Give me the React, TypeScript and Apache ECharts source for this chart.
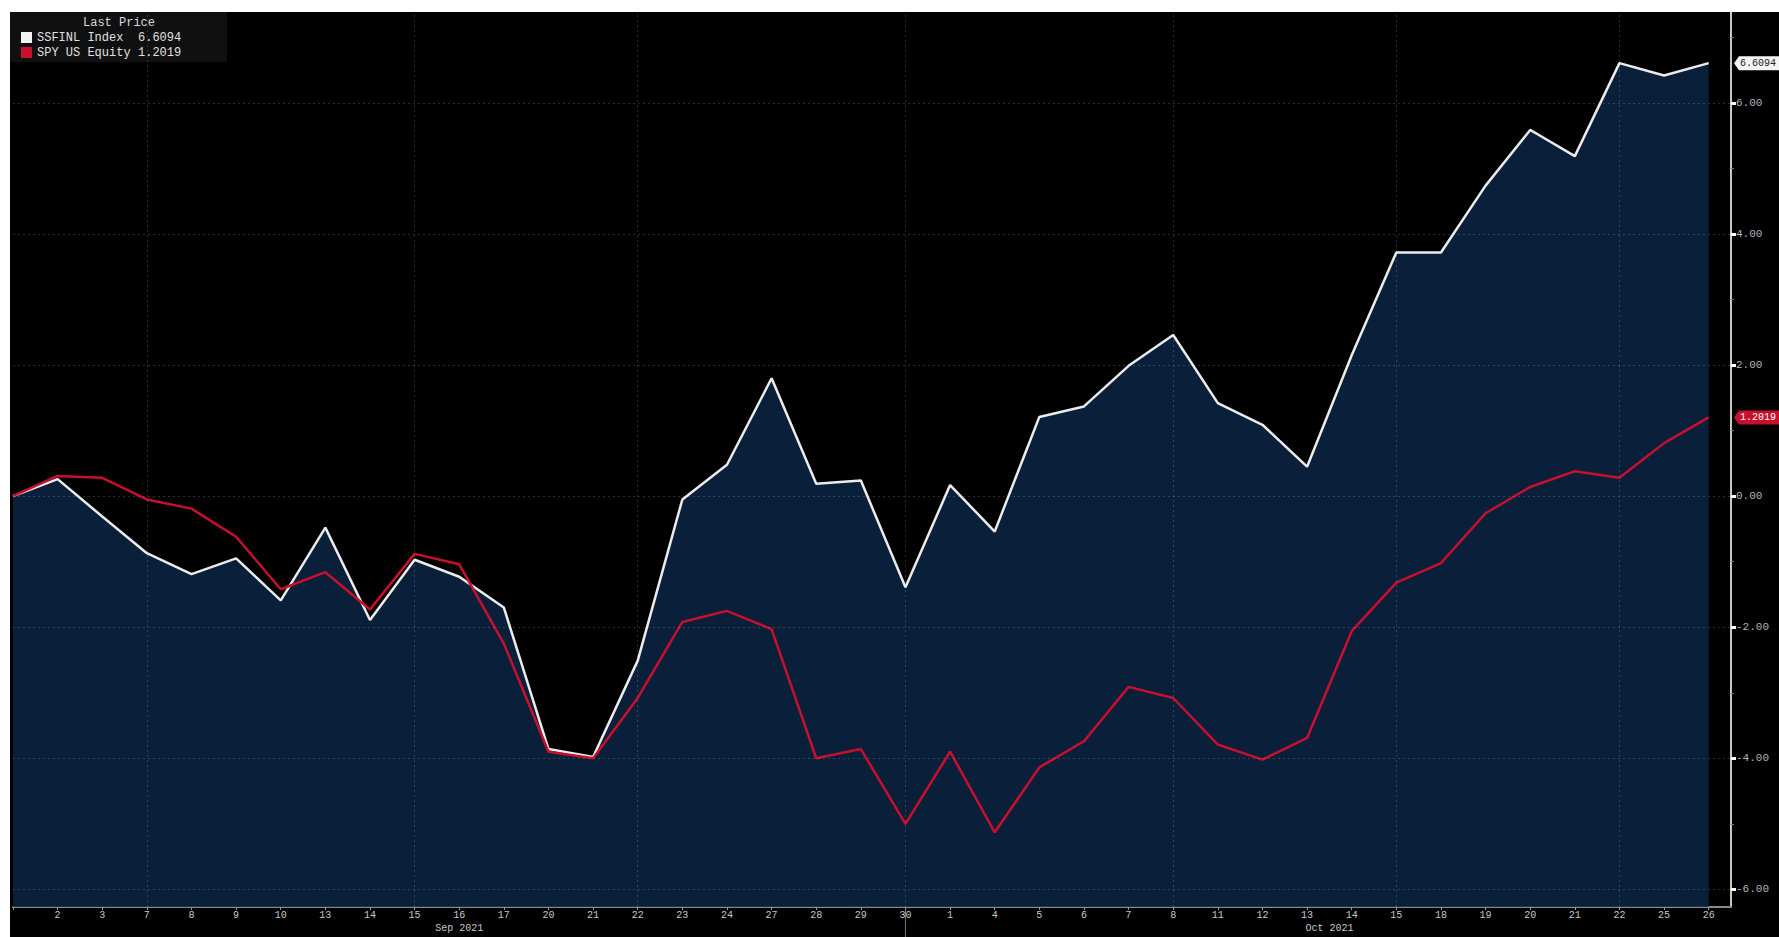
import React, { useEffect, useRef } from 'react';
import * as echarts from 'echarts';

const dayLabels = ['1','2','3','7','8','9','10','13','14','15','16','17','20','21','22','23','24','27','28','29','30',
  '1','4','5','6','7','8','11','12','13','14','15','18','19','20','21','22','25','26'];

const ssfinl = [0.00,0.26,-0.31,-0.87,-1.19,-0.95,-1.59,-0.48,-1.89,-0.97,-1.23,-1.70,-3.86,-3.98,-2.51,-0.05,0.48,1.80,0.19,0.24,-1.39,
  0.17,-0.54,1.21,1.37,1.99,2.46,1.42,1.09,0.45,2.15,3.72,3.72,4.74,5.59,5.19,6.61,6.42,6.6094];

const spy = [0.00,0.31,0.28,-0.05,-0.19,-0.62,-1.42,-1.16,-1.73,-0.88,-1.04,-2.25,-3.90,-4.00,-3.08,-1.92,-1.75,-2.03,-4.00,-3.86,-5.00,
  -3.90,-5.13,-4.14,-3.74,-2.91,-3.08,-3.79,-4.02,-3.69,-2.06,-1.32,-1.02,-0.26,0.14,0.38,0.28,0.81,1.2019];

const seriesNames = ['SSFINL Index', 'SPY US Equity'];
const legendTitle = 'Last Price';
const monthLabels = ['Sep 2021', 'Oct 2021'];
const monthRanges = [[0, 20], [21, 38]];
const monthDividerIdx = [20];
const yTickValues = [-6, -4, -2, 0, 2, 4, 6];
const vGridIdx = [3, 9, 14, 20, 26, 31, 36];

const WHITE = '#ececec';
const RED = '#c8102e';
const FONT = '"Liberation Mono", "DejaVu Sans Mono", monospace';

export default function App() {
  const ref = useRef<HTMLDivElement>(null);
  useEffect(() => {
    if (!ref.current) return;
    const chart = echarts.init(ref.current, null, { renderer: 'svg' });
    const idx = ssfinl.map((_, i) => i);
    const option: any = {
      animation: false,
      backgroundColor: '#000',
      grid: { left: 0, top: 0, right: 48, bottom: 30, containLabel: false },
      xAxis: {
        type: 'value', min: 0, max: 38.5, interval: 1,
        axisLine: { show: true, onZero: false, lineStyle: { color: '#8a8a8a', width: 2 } },
        axisTick: { show: true, length: 3, lineStyle: { color: '#999' } },
        axisLabel: {
          color: '#c8c8c8', fontSize: 10, fontFamily: FONT, margin: 3, showMaxLabel: false,
          formatter: (v: number) => (Number.isInteger(v) && v > 0 && v < dayLabels.length ? dayLabels[v] : ''),
        },
        splitLine: { show: false },
      },
      yAxis: {
        type: 'value', position: 'right', min: -6.27, max: 7.39, splitNumber: 7,
        axisLine: { show: true, onZero: false, lineStyle: { color: '#c8c8c8', width: 2 } },
        axisTick: { show: true, length: 5, customValues: yTickValues, lineStyle: { color: '#fff', width: 3 } },
        minorTick: { show: true, splitNumber: 2, length: 3, lineStyle: { color: '#777' } },
        axisLabel: {
          color: '#b4b4b4', fontSize: 11, fontFamily: FONT, margin: 5,
          customValues: yTickValues,
          formatter: (v: number) => v.toFixed(2),
        },
        splitLine: { show: false },
      },
      series: [
        {
          name: seriesNames[0] + ' area', type: 'line', z: 1, symbol: 'none',
          data: idx.map(i => [i, ssfinl[i]]),
          lineStyle: { width: 0, opacity: 0 },
          areaStyle: { color: '#0c2444', opacity: 0.86, origin: 'start' },
          markLine: {
            silent: true, symbol: ['none', 'none'], label: { show: false },
            lineStyle: { color: 'rgba(255,255,255,0.17)', type: [2, 3], width: 1 },
            data: [
              ...yTickValues.map(v => ({ yAxis: v })),
              ...vGridIdx.map(i => ({ xAxis: i })),
            ],
          },
        },
        {
          name: seriesNames[0], type: 'line', z: 3, symbol: 'none',
          data: idx.map(i => [i, ssfinl[i]]),
          lineStyle: { color: WHITE, width: 2.5 },
        },
        {
          name: seriesNames[1], type: 'line', z: 4, symbol: 'none',
          data: idx.map(i => [i, spy[i]]),
          lineStyle: { color: RED, width: 2.5 },
        },
      ],
    };
    chart.setOption(option);

    const px = (x: number, y: number) => chart.convertToPixel({ gridIndex: 0 }, [x, y]) as number[];
    const axisX = px(38.5, 0)[0];
    const axisBottom = px(0, -6.27)[1];
    const graphics: any[] = [];

    const lastW = ssfinl[ssfinl.length - 1];
    const lastR = spy[spy.length - 1];
    graphics.push({
      type: 'group', left: 0, top: 0,
      children: [
        { type: 'rect', shape: { x: 0, y: 0, width: 217, height: 50 }, style: { fill: '#101010' } },
        { type: 'text', x: 109, y: 11, style: { text: legendTitle, fill: '#d8d8d8', font: `12px ${FONT}`, align: 'center', verticalAlign: 'middle' } },
        { type: 'rect', shape: { x: 11, y: 20, width: 11, height: 11 }, style: { fill: '#f2f2f2' } },
        { type: 'text', x: 27, y: 26, style: { text: seriesNames[0], fill: '#e0e0e0', font: `12px ${FONT}`, verticalAlign: 'middle' } },
        { type: 'text', x: 128, y: 26, style: { text: lastW.toFixed(4), fill: '#e0e0e0', font: `12px ${FONT}`, verticalAlign: 'middle' } },
        { type: 'rect', shape: { x: 11, y: 35, width: 11, height: 11 }, style: { fill: RED } },
        { type: 'text', x: 27, y: 41, style: { text: seriesNames[1], fill: '#e0e0e0', font: `12px ${FONT}`, verticalAlign: 'middle' } },
        { type: 'text', x: 128, y: 41, style: { text: lastR.toFixed(4), fill: '#e0e0e0', font: `12px ${FONT}`, verticalAlign: 'middle' } },
      ],
    });

    const tag = (val: number, bg: string, fg: string) => {
      const y = px(38, val)[1];
      const x0 = axisX + 3;
      graphics.push({
        type: 'polygon', z: 10,
        shape: { points: [[x0, y], [x0 + 5, y - 7], [x0 + 60, y - 7], [x0 + 60, y + 7], [x0 + 5, y + 7]] },
        style: { fill: bg },
      });
      graphics.push({
        type: 'text', z: 11, x: x0 + 6, y,
        style: { text: val.toFixed(4), fill: fg, font: `10px ${FONT}`, verticalAlign: 'middle' },
      });
    };
    tag(lastW, '#f4f4f4', '#222');
    tag(lastR, RED, '#fff');

    monthLabels.forEach((m, k) => {
      const [a, b] = monthRanges[k];
      const cx = px((a + b) / 2, 0)[0];
      graphics.push({
        type: 'text', x: cx, y: axisBottom + 21,
        style: { text: m, fill: '#c8c8c8', font: `10px ${FONT}`, align: 'center', verticalAlign: 'middle' },
      });
    });
    monthDividerIdx.forEach(i => {
      const x = px(i, 0)[0];
      graphics.push({ type: 'line', shape: { x1: x, y1: axisBottom, x2: x, y2: axisBottom + 30 }, style: { stroke: '#777', lineWidth: 1 } });
    });

    chart.setOption({ graphic: graphics });
    return () => chart.dispose();
  }, []);

  return (
    <div style={{ position: 'fixed', left: 10, top: 12, width: 1769, height: 925, background: '#000' }}>
      <div ref={ref} style={{ width: 1769, height: 925 }} />
    </div>
  );
}
